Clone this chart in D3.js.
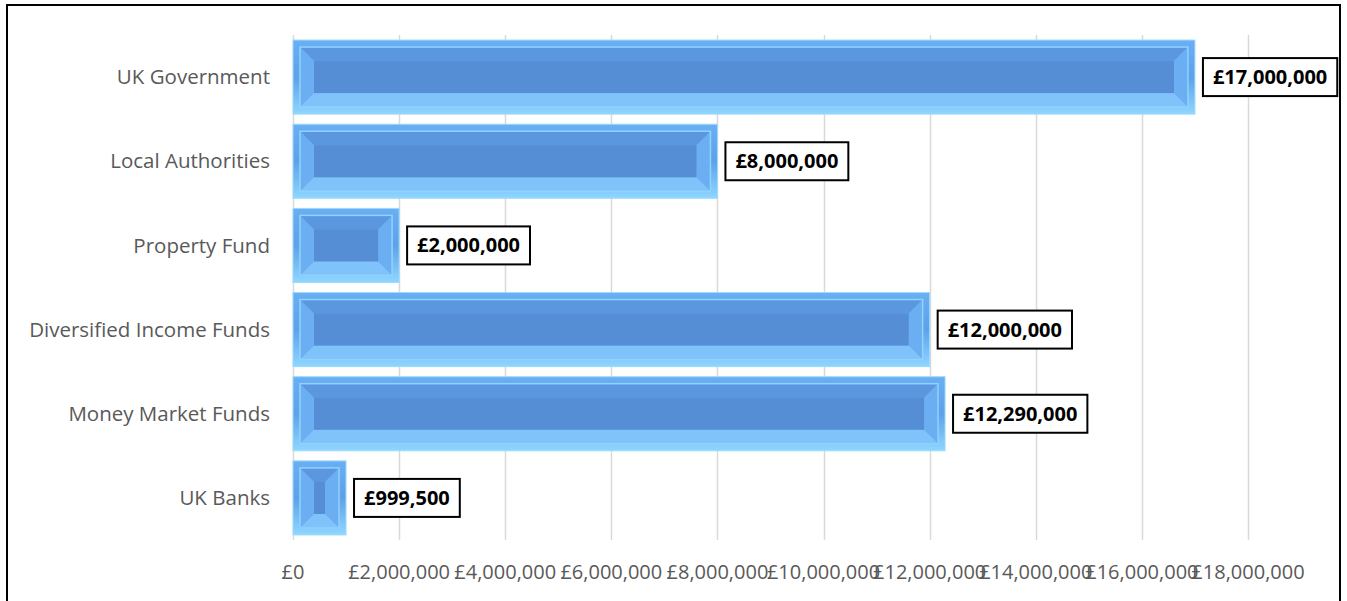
<!DOCTYPE html>
<html lang="en">
<head>
<meta charset="utf-8">
<title>Investments by counterparty</title>
<script src="https://d3js.org/d3.v7.min.js"></script>
<style>
  body { margin: 0; background: #fff; }
  text { font-family: "Open Sans", "Liberation Sans", sans-serif; }
</style>
</head>
<body>
<script>
// data
var categories = ["UK Government", "Local Authorities", "Property Fund",
                  "Diversified Income Funds", "Money Market Funds", "UK Banks"];
var values = [17000000, 8000000, 2000000, 12000000, 12290000, 999500];
var ticks = [0, 2000000, 4000000, 6000000, 8000000, 10000000, 12000000, 14000000, 16000000, 18000000];

var W = 1347, H = 601;
var margin = {top: 35, left: 293, right: 99, bottom: 61};
var width = W - margin.left - margin.right,
    height = H - margin.top - margin.bottom;

var svg = d3.select("body").append("svg")
    .attr("width", W).attr("height", H);

// outer frame
svg.append("rect")
    .attr("x", 7).attr("y", 5).attr("width", 1333).attr("height", 620)
    .attr("fill", "#fff").attr("stroke", "#000").attr("stroke-width", 2);

var defs = svg.append("defs");
var g1 = defs.append("linearGradient").attr("id", "frame").attr("x1", 0).attr("x2", 0).attr("y1", 0).attr("y2", 1);
g1.append("stop").attr("offset", "0%").attr("stop-color", "#6AAEF4");
g1.append("stop").attr("offset", "50%").attr("stop-color", "#5FA1E8");
g1.append("stop").attr("offset", "100%").attr("stop-color", "#8FD6FF");

var g = svg.append("g").attr("transform", "translate(" + margin.left + "," + margin.top + ")");

var x = d3.scaleLinear().domain([0, 18000000]).range([0, 955]);
var y = d3.scaleBand().domain(categories).range([0, height]).paddingInner(0.12).paddingOuter(0.06);

var fmt = function(v) { return "£" + d3.format(",")(v); };

// gridlines
g.selectAll(".grid").data(ticks).enter().append("line")
    .attr("x1", d => Math.round(x(d)) + 0.5).attr("x2", d => Math.round(x(d)) + 0.5)
    .attr("y1", 0).attr("y2", height)
    .attr("stroke", "#d9d9d9").attr("stroke-width", 1.5);

// x tick labels
g.selectAll(".tick").data(ticks).enter().append("text")
    .attr("x", d => x(d)).attr("y", height + 39)
    .attr("text-anchor", "middle")
    .attr("font-size", "20px").attr("fill", "#595959")
    .text(d => fmt(d));

// category labels
g.selectAll(".cat").data(categories).enter().append("text")
    .attr("x", -23).attr("y", d => y(d) + y.bandwidth() / 2)
    .attr("dy", "0.35em").attr("text-anchor", "end")
    .attr("font-size", "20.5px").attr("fill", "#595959")
    .text(d => d);

// bevelled bars
var bars = g.selectAll(".bar").data(categories).enter().append("g")
    .attr("transform", d => "translate(0," + y(d) + ")");

bars.each(function(d, i) {
  var w = x(values[i]), h = y.bandwidth();
  var b = d3.select(this);
  b.append("rect").attr("x", 0).attr("y", 0).attr("width", w).attr("height", h)
      .attr("fill", "url(#frame)").attr("stroke", "#9ADBFF").attr("stroke-width", 1);
  var ix = 7, iy = 7, iw = w - 14, ih = h - 14;
  var bv = Math.min(14, iw / 2, ih / 2);
  var x0 = ix, x1 = ix + iw, y0 = iy, y1 = iy + ih;
  var poly = function(pts, c) {
    b.append("polygon").attr("points", pts.map(p => p.join(",")).join(" ")).attr("fill", c);
  };
  poly([[x0, y0], [x1, y0], [x1 - bv, y0 + bv], [x0 + bv, y0 + bv]], "#5A97DE");
  poly([[x0, y1], [x1, y1], [x1 - bv, y1 - bv], [x0 + bv, y1 - bv]], "#80C3FB");
  poly([[x0, y0], [x0 + bv, y0 + bv], [x0 + bv, y1 - bv], [x0, y1]], "#6CAEF2");
  poly([[x1, y0], [x1 - bv, y0 + bv], [x1 - bv, y1 - bv], [x1, y1]], "#6CAEF2");
  b.append("rect").attr("x", x0 + bv).attr("y", y0 + bv)
      .attr("width", Math.max(0, iw - 2 * bv)).attr("height", Math.max(0, ih - 2 * bv))
      .attr("fill", "#558ED5");
  b.append("rect").attr("x", x0).attr("y", y0).attr("width", iw).attr("height", ih)
      .attr("fill", "none").attr("stroke", "#8FD3FF").attr("stroke-width", 1.5);
});

// data labels with boxes
bars.each(function(d, i) {
  var b = d3.select(this);
  var t = b.append("text")
      .attr("x", x(values[i]) + 18).attr("y", y.bandwidth() / 2)
      .attr("dy", "0.35em")
      .attr("font-size", "20px").attr("font-weight", "bold").attr("fill", "#000")
      .text(fmt(values[i]));
  var bb = t.node().getBBox();
  b.insert("rect", "text")
      .attr("x", x(values[i]) + 8).attr("y", y.bandwidth() / 2 - 19)
      .attr("width", bb.width + 20).attr("height", 38)
      .attr("fill", "#fff").attr("stroke", "#000").attr("stroke-width", 2);
});
</script>
</body>
</html>
